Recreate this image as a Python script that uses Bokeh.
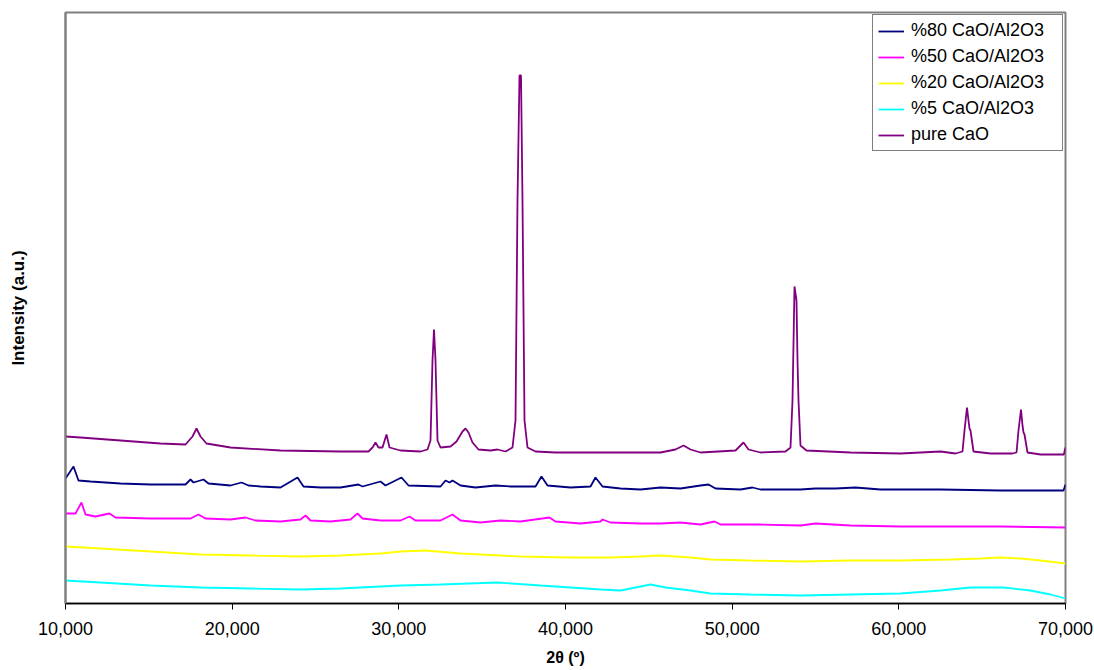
from bokeh.plotting import figure
from bokeh.models import Range1d, FixedTicker, Legend, LegendItem
from bokeh.embed import file_html
from bokeh.resources import INLINE

# ---- data (2theta in degrees, intensity in arbitrary units) ----
cao_x = [10.00, 10.90, 13.30, 15.70, 17.20, 17.62, 17.86, 18.10, 18.46, 19.90, 22.90, 26.50,
         28.18, 28.42, 28.60, 28.78, 29.02, 29.26, 29.44, 30.10, 31.30, 31.72, 31.90, 32.02,
         32.11, 32.20, 32.32, 32.50, 33.10, 33.46, 33.82, 34.00, 34.18, 34.42, 34.78, 35.50,
         35.92, 36.40, 36.82, 37.00, 37.12, 37.24, 37.33, 37.42, 37.54, 37.72, 38.20, 39.40,
         40.90, 43.30, 45.70, 46.60, 47.08, 47.50, 48.10, 50.20, 50.68, 50.98, 51.70, 53.20,
         53.50, 53.62, 53.74, 53.86, 53.92, 53.98, 54.10, 54.46, 57.10, 60.10, 62.50, 63.40,
         63.82, 63.94, 64.09, 64.18, 64.24, 64.30, 64.48, 65.50, 66.82, 67.06, 67.18, 67.33,
         67.42, 67.48, 67.54, 67.72, 68.50, 69.70, 69.90, 70.00]
cao_y = [167, 166, 163, 160, 159, 167, 175, 167, 160, 156, 153, 152,
         152, 156, 161, 156, 156, 169, 156, 153, 152, 154, 163, 243,
         274, 243, 163, 156, 157, 162, 172, 175, 171, 161, 154, 153,
         154, 152, 156, 183, 403, 528, 528, 403, 183, 156, 152, 151,
         151, 151, 151, 154, 158, 154, 151, 153, 161, 154, 151, 152,
         156, 203, 317, 303, 243, 203, 158, 153, 151, 150, 152, 150,
         152, 173, 196, 183, 175, 173, 152, 150, 150, 151, 173, 194,
         178, 171, 169, 151, 149, 149, 149, 156]

s80_x = [10.00, 10.48, 10.78, 11.50, 13.30, 15.10, 17.20, 17.50, 17.68, 18.28, 18.58, 19.90,
         20.56, 20.98, 21.70, 22.90, 23.92, 24.28, 25.30, 26.50, 27.58, 27.82, 28.90, 29.20,
         30.16, 30.58, 32.50, 32.80, 33.04, 33.22, 33.70, 34.60, 35.80, 36.70, 38.20, 38.56,
         38.92, 40.30, 41.50, 41.80, 42.22, 43.30, 44.50, 45.70, 46.90, 48.10, 48.58, 49.00,
         50.50, 51.22, 51.70, 54.10, 55.00, 56.20, 57.40, 58.90, 62.50, 66.10, 69.88, 70.00]
s80_y = [125, 137, 123, 122, 120, 119, 119, 124, 121, 124, 120, 118,
         121, 118, 117, 116, 126, 117, 116, 116, 119, 117, 122, 118,
         126, 118, 117, 123, 121, 123, 118, 116, 118, 117, 117, 127,
         118, 116, 117, 126, 117, 115, 114, 116, 115, 118, 119, 115,
         114, 116, 114, 114, 115, 115, 116, 114, 114, 113, 113, 119]

s50_x = [10.00, 10.60, 10.96, 11.20, 11.80, 12.64, 13.00, 15.10, 17.50, 17.98, 18.40, 19.90,
         20.80, 21.40, 22.90, 24.10, 24.40, 24.70, 25.90, 27.10, 27.52, 27.82, 28.90, 30.10,
         30.64, 31.00, 32.50, 33.22, 33.70, 34.90, 36.10, 37.30, 39.04, 39.40, 40.90, 42.10,
         42.22, 42.70, 44.50, 45.70, 46.90, 48.10, 48.94, 49.30, 51.58, 54.10, 55.00, 57.10,
         60.10, 66.10, 70.00]
s50_y = [90, 90, 101, 89, 87, 90, 86, 85, 85, 89, 85, 84,
         86, 83, 82, 84, 88, 83, 82, 84, 90, 85, 83, 83,
         87, 83, 83, 89, 83, 81, 83, 82, 86, 82, 80, 82,
         84, 81, 80, 80, 81, 79, 82, 79, 79, 78, 80, 78,
         77, 77, 76]

s20_x = [10.00, 12.10, 15.10, 18.10, 21.10, 24.10, 26.50, 28.90, 30.10, 31.60, 33.70, 37.30,
         40.30, 42.70, 44.50, 45.70, 47.50, 48.70, 51.10, 54.10, 57.10, 60.10, 63.10, 64.90,
         66.10, 67.30, 68.50, 70.00]
s20_y = [57, 55, 52, 49, 48, 47, 48, 50, 52, 53, 50, 47,
         46, 46, 47, 48, 46, 44, 43, 42, 43, 43, 44, 45,
         46, 45, 43, 40]

s5_x = [10.00, 12.10, 15.10, 18.10, 21.10, 24.10, 26.50, 27.70, 30.10, 32.50, 35.92, 38.50,
        40.30, 42.10, 43.30, 45.10, 46.00, 47.50, 48.70, 51.10, 54.10, 57.10, 60.10, 62.50,
        64.30, 66.28, 67.90, 69.10, 70.00]
s5_y = [23, 21, 18, 16, 15, 14, 15, 16, 18, 19, 21, 18,
        16, 14, 13, 19, 16, 13, 10, 9, 8, 9, 10, 13,
        16, 16, 13, 9, 5]

x_ticks = [10, 20, 30, 40, 50, 60, 70]
x_tick_labels = ["10,000", "20,000", "30,000", "40,000", "50,000", "60,000", "70,000"]

series = [
    ("%80 CaO/Al2O3", s80_x, s80_y, "#000080"),
    ("%50 CaO/Al2O3", s50_x, s50_y, "#FF00FF"),
    ("%20 CaO/Al2O3", s20_x, s20_y, "#FFFF00"),
    ("%5 CaO/Al2O3", s5_x, s5_y, "#00FFFF"),
    ("pure CaO", cao_x, cao_y, "#800080"),
]

FONT = "Liberation Sans"

p = figure(width=1094, height=670, output_backend="svg", toolbar_location=None,
           x_range=Range1d(10, 70), y_range=Range1d(0, 591),
           min_border_left=65, min_border_right=29, min_border_top=12, min_border_bottom=67)
p.background_fill_color = "white"
p.border_fill_color = "white"
p.outline_line_color = "#808080"
p.outline_line_width = 2
p.xgrid.visible = False
p.ygrid.visible = False

items = []
for name, xs, ys, col in series:
    r = p.line(xs, ys, line_color=col, line_width=1.8)
    items.append(LegendItem(label=name, renderers=[r]))

legend = Legend(items=items, location="top_right")
legend.margin = 2
legend.padding = 5
legend.spacing = 5
legend.label_height = 20
legend.label_width = 146
legend.glyph_height = 20
legend.glyph_width = 26
legend.label_standoff = 7
legend.label_text_font = FONT
legend.label_text_font_size = "18px"
legend.label_text_color = "black"
legend.border_line_color = "black"
legend.border_line_width = 1
legend.background_fill_color = "white"
legend.background_fill_alpha = 1.0
p.add_layout(legend)

xa = p.xaxis[0]
xa.ticker = FixedTicker(ticks=x_ticks)
xa.major_label_overrides = {t: lab for t, lab in zip(x_ticks, x_tick_labels)}
xa.minor_tick_line_color = None
xa.major_tick_in = 0
xa.major_tick_out = 6
xa.axis_line_color = "black"
xa.axis_line_width = 1.5
xa.major_tick_line_color = "black"
xa.major_label_text_font = FONT
xa.major_label_text_font_size = "18px"
xa.major_label_text_color = "black"
xa.major_label_standoff = 12
xa.axis_label = "2θ (º)"
xa.axis_label_text_font = FONT
xa.axis_label_text_font_size = "16px"
xa.axis_label_text_font_style = "bold"
xa.axis_label_text_color = "black"
xa.axis_label_standoff = 11

ya = p.yaxis[0]
ya.ticker = FixedTicker(ticks=[])
ya.minor_tick_line_color = None
ya.major_tick_line_color = None
ya.axis_line_color = "#808080"
ya.axis_line_width = 2
ya.major_label_text_font_size = "0px"
ya.axis_label = "Intensity (a.u.)"
ya.axis_label_text_font = FONT
ya.axis_label_text_font_size = "17px"
ya.axis_label_text_font_style = "bold"
ya.axis_label_text_color = "black"
ya.axis_label_standoff = 38

open("out.html", "w").write(file_html(p, INLINE))
